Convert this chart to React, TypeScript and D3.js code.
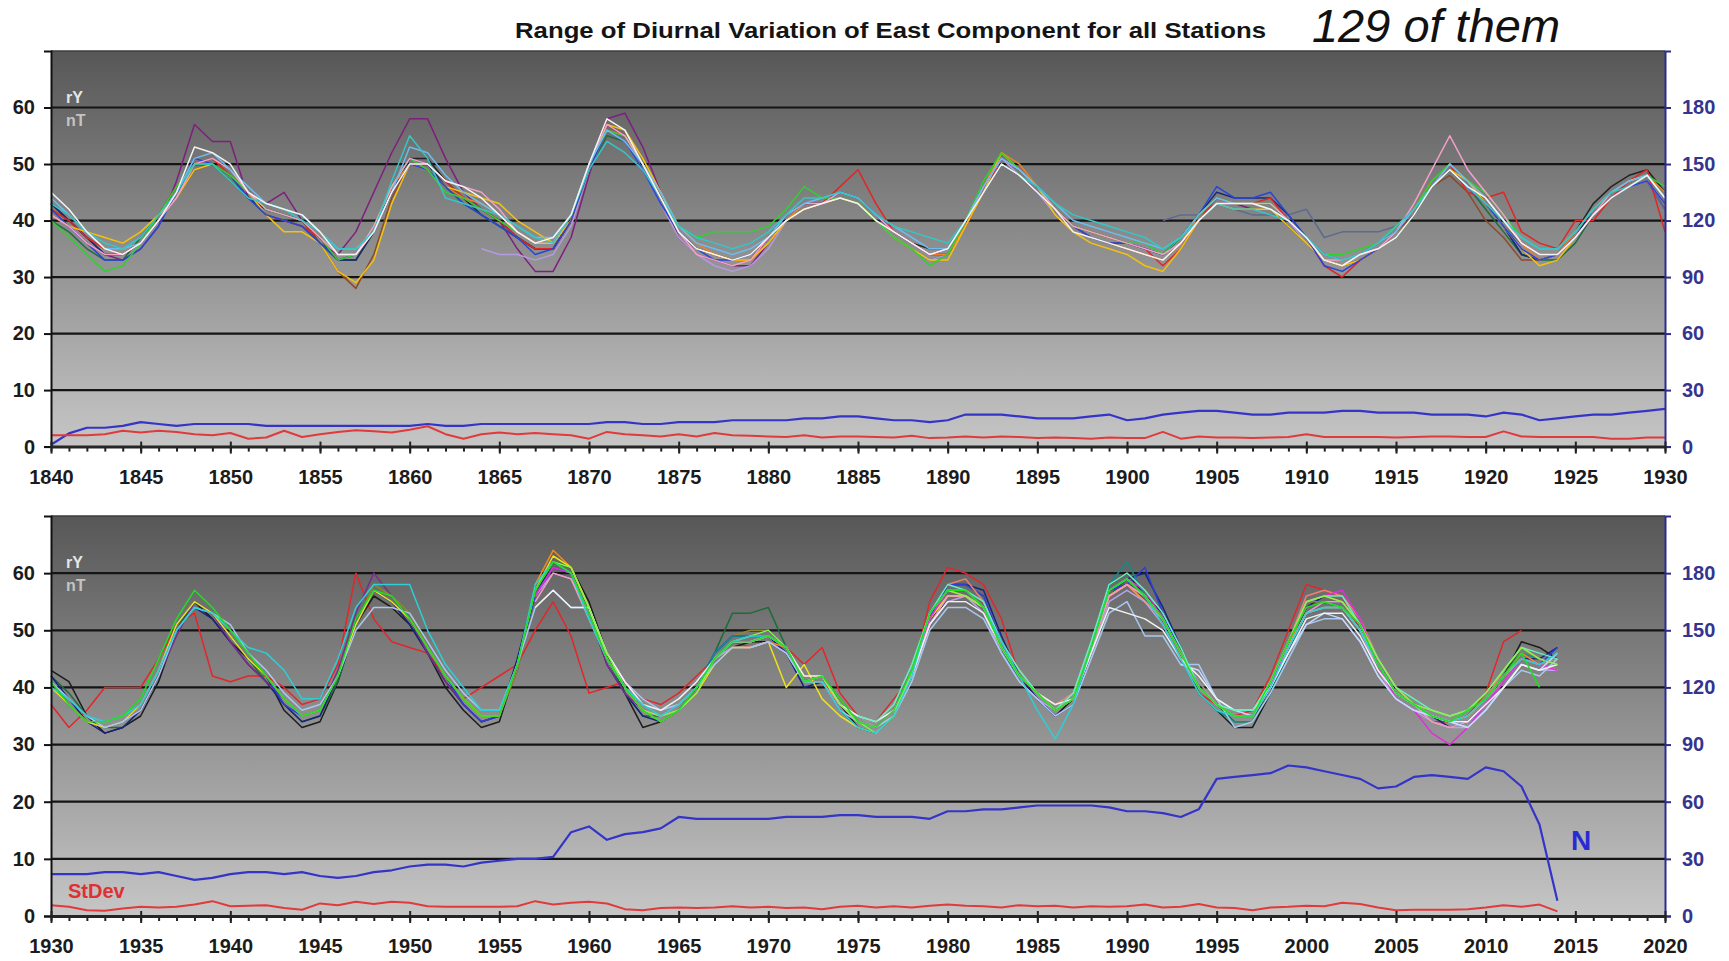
import React, { useRef, useEffect } from 'react';
import * as d3 from 'd3';

const WIDTH = 1729;
const HEIGHT = 961;
const PLOT_LEFT = 51;
const PLOT_RIGHT = 1665;
const FONT = 'Arial, "Liberation Sans", sans-serif';

// tick labels
const LEFT_TICKS = [0, 10, 20, 30, 40, 50, 60];
const RIGHT_TICKS = [0, 30, 60, 90, 120, 150, 180];
const UPPER_YEARS = [1840, 1845, 1850, 1855, 1860, 1865, 1870, 1875, 1880, 1885, 1890, 1895, 1900, 1905, 1910, 1915, 1920, 1925, 1930];
const LOWER_YEARS = [1930, 1935, 1940, 1945, 1950, 1955, 1960, 1965, 1970, 1975, 1980, 1985, 1990, 1995, 2000, 2005, 2010, 2015, 2020];

// ---- upper panel, station ranges (nT), yearly from 1840 unless noted
const U_PURPLE = [41,39,36,34,33,35,39,47,57,54, 54,44,43,45,40,36,34,38,45,52, 58,58,51,45,42,40,35,31,31,37, 48,58,59,53,45,37,34,33,32,32, 36,40,42,43,44,43,40,38,36,34, 34,39,45,50,48,45,42,39,37,36, 35,34,33,36,40,43,43,42,42,40, 36,33,32,33,35,38,42,46,49,46, 43,39,36,34,34,37,41,44,46,47, 42];
const U_BROWN = [42,40,37,35,34,36,40,44,49,50, 48,45,42,41,40,36,31,28,34,44, 50,50,46,44,42,40,37,35,35,40, 49,56,55,50,44,38,35,34,33,33, 36,40,42,43,44,43,40,37,35,33, 34,39,45,50,48,45,41,38,37,36, 35,34,33,36,40,43,42,42,42,39, 36,33,32,33,35,38,41,46,48,45, 40,37,33,33,34,37,41,45,47,48, 44];
const U_BLACK = [43,40,37,34,34,36,40,45,50,50, 48,44,42,41,40,37,33,33,38,45, 51,51,47,44,41,39,37,35,35,40, 50,57,55,50,44,38,35,34,33,33, 37,41,43,43,45,44,41,38,36,35, 35,40,46,50,48,45,42,39,38,37, 36,35,34,37,41,44,43,43,43,40, 37,34,33,34,36,38,42,46,49,46, 43,39,34,33,34,38,43,46,48,49, 45];
const U_DKGREEN = [40,38,35,33,33,37,41,46,50,50, 47,44,41,40,39,36,33,33,38,45, 50,49,46,43,41,39,37,35,35,40, 49,55,54,49,43,38,35,34,33,34, 37,40,42,43,44,43,40,37,35,33, 34,39,46,51,49,46,42,39,37,36, 35,34,33,36,40,43,42,42,42,39, 36,33,32,33,35,37,41,46,49,46, 42,38,34,33,33,36,41,45,47,48, 45];
const U_NAVY = [43,40,37,34,34,36,40,45,50,50, 48,44,42,41,40,37,33,33,38,45, 51,50,46,44,42,40,37,35,35,40, 50,57,55,50,44,38,35,34,33,33, 37,41,43,43,45,44,41,38,36,34, 35,40,46,51,49,46,42,39,37,36, 36,35,34,37,41,45,44,44,44,41, 37,33,32,33,35,38,42,46,49,46, 43,39,34,33,34,37,42,45,47,48, 44];
const U_RED = [42,40,37,35,34,36,41,46,50,51, 48,45,41,40,39,37,33,34,38,45, 50,50,47,44,42,40,37,35,35,40, 50,57,55,50,44,38,35,34,33,33, 37,41,43,43,46,49,43,38,36,34, 34,39,45,51,49,46,42,39,38,37, 36,35,32,35,40,44,43,43,44,40, 37,32,30,33,35,38,42,47,50,45, 44,45,38,36,35,40,40,44,47,49, 38];
const U_YELLOW = [41,39,38,37,36,38,41,44,49,50, 48,45,41,38,38,36,31,29,33,43, 50,49,46,45,44,43,40,38,36,40, 49,57,56,51,45,38,35,34,33,33, 36,40,42,43,44,43,40,37,35,33, 33,39,45,52,49,46,41,38,36,35, 34,32,31,35,40,43,42,42,42,39, 36,33,32,33,35,38,42,46,49,47, 43,39,35,32,33,37,41,44,46,48, 44];
const U_BLUE = [42,39,36,33,33,35,39,45,51,50, 48,44,41,40,39,36,33,34,39,45, 50,49,46,43,41,39,37,34,35,40, 49,56,54,49,43,38,35,33,33,34, 37,41,43,43,45,44,41,38,36,34, 35,40,46,51,49,46,42,39,37,36, 36,35,34,37,41,46,44,44,45,41, 37,32,31,33,35,38,42,46,49,46, 43,39,35,33,34,37,41,44,46,47, 43];
const U_GREEN = [40,37,34,31,32,36,41,46,50,50, 48,45,42,41,40,37,33,34,39,46, 51,49,45,44,42,40,38,36,36,41, 50,56,55,50,44,39,37,38,38,38, 39,42,46,44,44,43,40,37,35,32, 34,40,47,52,49,46,42,39,38,37, 36,36,34,37,41,44,43,43,43,40, 37,34,34,35,36,39,42,47,50,47, 45,41,37,35,35,38,42,45,47,48, 46];
const U_PINK = [41,39,36,34,34,36,40,44,50,51, 49,45,42,41,40,37,34,34,39,46, 51,50,47,46,45,42,38,36,36,41, 50,57,55,50,44,38,34,33,32,33, 37,41,43,43,45,44,41,38,36,34, 35,40,46,51,49,46,42,39,38,37, 36,35,34,36,40,43,43,43,43,40, 37,33,33,34,35,38,43,49,55,49, 45,41,36,34,34,37,41,45,47,48, 44];
const U_ORANGE_START = 1858;
const U_ORANGE = [38,46, 50,49,46,44,43,41,38,36,36,40, 49,56,55,50,45,39,36,34,33,33, 36,40,43,43,44,43,40,38,36,34, 34,39,46,52,50,46,42,39,37,36, 35,34,33,36,41,44,43,43,42,40, 37,33,32,33,35,38,42,47,50,47, 44,40,36,33,34,38,42,45,47,48, 45];
const U_SLATE_START = 1902;
const U_SLATE = [40,41,41,43,42,41,41,41, 42,37,38,38,38,39,42,46,49,46, 43,39,36,34,34,37,41,44,46,47, 42];
const U_LAVENDER_START = 1864;
const U_LAVENDER = [35,34,34,33,34,39, 49,56,54,49,43,37,34,32,31,32, 35,40,42,43,44,43,40,37,35,33, 34,39,45,51,48,45,41,38,37,36, 35,34,33,36,40,43,42,42,42,40, 36,33,32,33,35,38,42,46,49,46, 43,39,35,33,34,37,41,44,46,47, 43];
const U_SKY = [44,41,38,35,35,36,40,45,51,52, 49,46,43,42,41,38,35,35,38,45, 53,52,48,45,43,41,39,37,37,41, 50,56,54,50,45,39,36,35,34,35, 37,41,43,44,45,44,41,39,37,35, 35,40,46,51,49,46,43,40,39,38, 37,36,35,37,41,44,43,43,42,40, 37,34,33,34,36,38,42,46,50,47, 44,40,37,35,35,38,42,45,47,48, 44];
const U_TEAL = [43,41,38,36,35,37,41,45,50,50, 47,44,43,42,40,38,35,35,38,47, 55,51,44,43,42,41,39,37,36,41, 49,54,52,49,44,39,37,36,35,36, 38,41,44,44,45,44,41,39,38,37, 36,40,45,50,48,46,43,41,40,39, 38,37,35,37,40,43,42,42,41,40, 37,34,33,34,36,39,42,46,49,46, 43,40,37,35,35,38,42,45,46,48, 44];
const U_WHITE = [45,42,38,35,34,36,40,45,53,52, 50,45,43,42,41,38,34,34,38,45, 50,50,47,46,44,41,38,36,37,41, 50,58,56,50,44,38,35,34,33,34, 37,40,42,43,44,43,40,38,36,34, 35,40,45,50,48,45,42,38,37,36, 35,34,33,36,40,43,43,43,42,40, 37,33,32,34,35,37,41,46,49,46, 44,40,36,34,34,37,41,44,46,48, 44];

const UPPER_STDEV = [2.0,2.0,2.0,2.2,2.8,2.5,2.8,2.6,2.2,2.0, 2.4,1.4,1.6,2.8,1.7,2.2,2.6,2.9,2.7,2.5, 3.0,3.6,2.2,1.4,2.2,2.5,2.2,2.4,2.2,2.0, 1.4,2.6,2.2,2.0,1.8,2.2,1.8,2.4,2.0,1.9, 1.8,1.7,2.0,1.6,1.8,1.8,1.7,1.6,1.9,1.5, 1.6,1.8,1.6,1.8,1.7,1.5,1.6,1.5,1.4,1.6, 1.5,1.5,2.6,1.4,1.8,1.6,1.6,1.5,1.6,1.7, 2.2,1.7,1.7,1.7,1.7,1.6,1.7,1.8,1.8,1.7, 1.7,2.7,1.8,1.7,1.7,1.7,1.7,1.4,1.4,1.6, 1.6];
const UPPER_N = [1,7,10,10,11,13,12,11,12,12, 12,12,11,11,11,11,11,11,11,11, 11,12,11,11,12,12,12,12,12,12, 12,13,13,12,12,13,13,13,14,14, 14,14,15,15,16,16,15,14,14,13, 14,17,17,17,16,15,15,15,16,17, 14,15,17,18,19,19,18,17,17,18, 18,18,19,19,18,18,18,17,17,17, 16,18,17,14,15,16,17,17,18,19, 20];

// ---- lower panel, yearly from 1930 unless noted
const L_RED = [37,33,36,40,40,40,45,51,53,42, 41,42,42,40,37,38,44,60,52,48, 47,46,42,38,40,42,44,50,55,49, 39,40,41,38,37,39,42,45,48,47, 48,47,44,47,39,35,34,38,42,55, 61,60,58,52,42,38,36,38,47,57, 58,55,51,45,39,37,35,36,42,50, 58,57,56,50,43,38,36,34,34,35, 39,48,50];
const L_BLACK = [43,41,35,32,33,35,41,50,55,52, 48,45,42,36,33,34,41,51,56,54, 51,46,40,36,33,34,44,57,62,61, 55,46,39,33,34,36,39,44,47,48, 48,46,41,42,37,33,32,35,42,52, 55,55,53,47,42,38,35,38,46,58, 60,56,53,46,39,36,33,33,39,46, 53,55,54,50,44,39,37,35,34,35, 38,42,48,47,45];
const L_DKGREEN = [42,39,35,33,33,36,42,50,55,53, 49,45,41,37,34,35,41,51,57,55, 52,46,41,37,34,35,44,56,62,61, 54,45,39,35,35,37,40,46,53,53, 54,47,41,42,38,34,33,36,43,52, 56,56,54,47,42,39,36,38,47,56, 59,55,52,46,40,37,34,34,40,47, 54,55,54,50,44,39,37,35,34,35, 38,42,47,45];
const L_NAVY = [42,38,34,32,33,36,42,50,54,52, 48,44,41,37,34,35,42,52,57,55, 51,46,41,37,34,35,45,57,61,60, 53,44,39,35,34,36,40,46,49,49, 49,46,40,41,36,33,32,35,42,52, 58,58,57,49,42,38,35,37,46,57, 59,60,54,47,40,37,35,35,40,47, 54,56,55,51,44,39,37,35,33,34, 37,41,45,45,47];
const L_BLUE = [41,37,34,33,34,37,43,51,55,53, 49,45,42,37,35,36,42,51,57,55, 52,47,42,37,34,35,44,56,61,60, 53,45,40,36,35,37,40,46,49,49, 50,47,41,42,37,34,33,36,43,52, 58,58,56,48,42,39,36,38,47,57, 58,61,53,46,40,37,35,35,40,47, 53,55,55,51,44,39,37,35,34,34, 37,41,45,44,47];
const L_PURPLE = [40,37,34,33,34,36,42,49,55,53, 48,44,41,38,35,36,43,53,60,56, 52,46,41,37,34,35,43,56,61,60, 53,44,39,36,35,37,40,45,48,48, 49,47,41,42,37,34,33,36,43,52, 57,57,54,47,42,39,36,38,47,57, 58,56,52,46,40,37,35,35,40,47, 54,55,55,51,44,39,37,35,34,35, 38,42,46,44];
const L_YELLOW = [40,37,34,33,34,37,43,51,55,53, 49,45,42,38,35,36,42,51,57,55, 52,47,42,38,35,35,44,57,63,61, 54,45,40,36,34,36,39,44,47,47, 48,40,44,38,35,33,32,35,42,52, 56,56,54,47,42,39,36,38,47,56, 58,55,52,46,40,37,35,35,40,47, 53,54,54,50,44,39,37,35,34,35, 38,42,45,44];
const L_LTBLUE = [41,38,35,33,34,36,42,50,54,53, 51,46,43,39,36,37,42,50,54,54, 53,48,43,39,36,36,44,54,57,54, 54,46,41,38,36,37,40,44,47,47, 48,46,41,41,36,34,33,35,41,50, 54,54,52,46,41,38,35,37,45,53, 55,49,49,44,44,38,33,34,39,45, 51,52,52,48,42,38,36,35,34,33, 36,40,43,42,45];
const L_CYAN = [40,38,35,34,35,37,43,50,54,53, 50,47,46,43,38,38,45,54,58,58, 58,50,44,40,36,36,44,58,62,60, 52,45,40,37,35,37,40,45,48,49, 49,47,41,41,36,33,32,35,42,53, 57,57,54,48,42,36,31,37,47,57, 59,56,51,45,39,36,35,35,40,47, 53,54,54,50,44,39,37,35,34,35, 38,42,45,44,46];
const L_GREEN = [41,37,34,34,35,38,45,52,57,54, 50,46,42,38,35,36,42,52,57,56, 52,47,42,38,35,35,44,57,62,60, 53,45,40,36,34,36,40,45,48,48, 49,47,41,42,38,34,33,36,43,53, 57,57,54,47,42,39,36,38,47,57, 59,56,52,46,40,37,35,35,41,48, 54,55,54,51,44,39,37,35,34,36, 38,42,46,40];
const L_OLIVE_START = 1947;
const L_OLIVE = [51,58,56, 53,47,42,38,35,35,43,56,61,60, 53,45,40,36,35,37,40,46,49,50, 50,47,42,42,38,34,33,36,43,53, 57,56,54,47,42,39,36,38,47,57, 59,56,52,46,40,37,35,35,40,47, 55,55,55,51,44,39,37,35,34,35, 38,42,46,45,44];
// stations that begin with the IGY
const IGY_START = 1957;
const L_MAGENTA = [56,61,60, 53,45,40,36,35,37,40,45,48,48, 49,47,41,42,37,34,33,36,43,52, 57,57,54,47,42,39,36,38,47,57, 59,57,52,46,40,37,35,35,40,48, 55,56,57,52,44,38,36,32,30,33, 37,41,45,44,43];
const L_ORANGE = [58,64,61, 54,45,40,36,35,37,40,45,47,47, 48,47,41,41,37,34,33,36,43,52, 57,57,54,47,42,39,36,38,46,56, 58,55,52,46,40,37,35,35,40,47, 55,56,55,51,44,39,37,35,34,35, 38,42,46,44,43];
const L_PINK = [55,60,59, 52,45,40,36,35,37,40,45,48,48, 49,47,41,42,37,34,33,36,42,51, 56,56,54,47,42,39,36,38,47,56, 58,56,52,46,40,37,35,35,40,47, 53,55,55,51,44,39,37,34,33,34, 37,41,45,44,43];
const L_WHITE = [54,57,54, 54,46,41,37,36,38,41,45,48,48, 49,47,42,42,37,35,34,36,42,51, 55,55,53,47,42,39,37,38,46,54, 53,52,50,45,42,38,36,36,40,46, 52,53,53,49,43,39,37,35,34,34, 37,40,44,43,44];
const L_LIME = [57,62,61, 54,46,40,36,35,36,39,45,48,49, 50,47,41,42,37,34,32,35,43,53, 57,56,54,47,42,39,36,38,47,57, 59,56,52,46,40,37,35,35,41,48, 55,56,55,51,45,40,37,36,35,36, 39,43,47,45,44];
const L_TEAL = [57,62,60, 53,45,40,36,35,37,40,46,49,49, 49,47,41,42,37,34,32,35,43,52, 57,57,54,47,41,38,36,38,47,58, 62,56,52,46,39,36,34,34,39,46, 53,54,54,50,44,39,37,35,34,35, 38,42,46,45,44];
const L_LAVENDER = [56,60,59, 53,45,40,36,35,37,40,45,47,47, 48,46,41,42,37,34,33,36,42,51, 55,56,53,46,41,38,36,38,46,55, 57,55,51,45,40,37,35,35,40,47, 53,54,54,50,43,38,36,34,33,33, 36,40,44,43,43];
const L_GRAY_START = 1964;
const L_GRAY = [35,37,40,45,48,48, 49,47,41,42,37,35,33,36,42,52, 56,56,54,47,42,39,36,38,47,56, 58,56,52,46,41,37,35,35,40,47, 53,55,54,50,44,39,37,35,34,35, 38,41,45,44,45];
const L_MINT_START = 1975;
const L_MINT = [35,34,37,44,53, 58,57,55,48,43,39,36,39,48,58, 60,57,53,47,40,37,36,36,41,48, 55,56,56,51,45,40,38,36,35,36, 39,43,47,46,45];
const L_SALMON_START = 1980;
const L_SALMON = [58,59,55,48,43,39,37,39,47,56, 58,55,52,46,40,37,35,35,41,48, 56,57,56,52,45,40,37,35,34,35, 38,43,47,45,44];
const L_PALE_START = 1993;
const L_PALE = [44,43,38,36,35,40,46, 51,53,52,48,42,38,36,35,34,33, 36,40,44,43,46];

const LOWER_STDEV = [1.9,1.6,1.0,0.9,1.3,1.6,1.5,1.6,2.0,2.6, 1.7,1.8,1.9,1.4,1.1,2.2,1.9,2.5,2.1,2.5, 2.3,1.7,1.6,1.6,1.6,1.6,1.7,2.6,2.0,2.3, 2.5,2.2,1.2,1.0,1.4,1.5,1.4,1.5,1.7,1.5, 1.6,1.4,1.5,1.2,1.6,1.8,1.5,1.7,1.5,1.8, 2.0,1.8,1.7,1.5,1.9,1.7,1.8,1.5,1.7,1.6, 1.7,2.0,1.5,1.6,2.1,1.5,1.4,1.0,1.5,1.6, 1.8,1.7,2.3,2.1,1.5,1.0,1.1,1.1,1.1,1.2, 1.5,1.9,1.6,2.0,0.8];
const LOWER_N = [22,22,22,23,23,22,23,21,19,20, 22,23,23,22,23,21,20,21,23,24, 26,27,27,26,28,29,30,30,31,44, 47,40,43,44,46,52,51,51,51,51, 51,52,52,52,53,53,52,52,52,51, 55,55,56,56,57,58,58,58,58,57, 55,55,54,52,56,72,73,74,75,79, 78,76,74,72,67,68,73,74,73,72, 78,76,68,48,8];

const upperSeries = [
  { start: 1840, values: U_PURPLE, color: '#7e1f7e' },
  { start: 1840, values: U_BROWN, color: '#8b4a2b' },
  { start: 1840, values: U_BLACK, color: '#242424' },
  { start: 1840, values: U_DKGREEN, color: '#1d6e3c' },
  { start: 1840, values: U_NAVY, color: '#1c2a78' },
  { start: U_SLATE_START, values: U_SLATE, color: '#5c6b8c' },
  { start: U_LAVENDER_START, values: U_LAVENDER, color: '#b49ae0' },
  { start: 1840, values: U_RED, color: '#e02626' },
  { start: U_ORANGE_START, values: U_ORANGE, color: '#f08020' },
  { start: 1840, values: U_YELLOW, color: '#f4c20c' },
  { start: 1840, values: U_BLUE, color: '#2746d8' },
  { start: 1840, values: U_GREEN, color: '#2ed12e' },
  { start: 1840, values: U_PINK, color: '#f4a0c8' },
  { start: 1840, values: U_SKY, color: '#6cbcf0' },
  { start: 1840, values: U_TEAL, color: '#35c6c6' },
  { start: 1840, values: U_WHITE, color: '#f4f4f4' },
];

const lowerSeries = [
  { start: 1930, values: L_RED, color: '#e3262b' },
  { start: 1930, values: L_BLACK, color: '#1c1c1c' },
  { start: 1930, values: L_DKGREEN, color: '#1f6b3b' },
  { start: 1930, values: L_NAVY, color: '#1a237e' },
  { start: 1930, values: L_PURPLE, color: '#7b2d8e' },
  { start: L_OLIVE_START, values: L_OLIVE, color: '#8a8a2a' },
  { start: 1930, values: L_BLUE, color: '#2a3fd6' },
  { start: IGY_START, values: L_TEAL, color: '#138b8b' },
  { start: L_GRAY_START, values: L_GRAY, color: '#9a9a9a' },
  { start: IGY_START, values: L_ORANGE, color: '#f28a1d' },
  { start: 1930, values: L_YELLOW, color: '#ece21c' },
  { start: L_SALMON_START, values: L_SALMON, color: '#f08070' },
  { start: IGY_START, values: L_LAVENDER, color: '#b7a3ea' },
  { start: IGY_START, values: L_PINK, color: '#f29ac4' },
  { start: IGY_START, values: L_MAGENTA, color: '#e22ce0' },
  { start: 1930, values: L_LTBLUE, color: '#a9c8f0' },
  { start: L_PALE_START, values: L_PALE, color: '#c8d8ff' },
  { start: IGY_START, values: L_WHITE, color: '#f2f2f2' },
  { start: L_MINT_START, values: L_MINT, color: '#66f0c0' },
  { start: IGY_START, values: L_LIME, color: '#8ef04a' },
  { start: 1930, values: L_CYAN, color: '#2ccfd6' },
  { start: 1930, values: L_GREEN, color: '#1ee01e' },
];

const panels = [
  { top: 51, bottom: 446.6, domain: [1840, 1930], years: UPPER_YEARS, series: upperSeries, stdevStart: 1840, stdev: UPPER_STDEV, nStart: 1840, n: UPPER_N, extraLabels: false },
  { top: 516, bottom: 916, domain: [1930, 2020], years: LOWER_YEARS, series: lowerSeries, stdevStart: 1930, stdev: LOWER_STDEV, nStart: 1930, n: LOWER_N, extraLabels: true },
];

const toPoints = (start: number, values: number[]) => values.map((v, i) => [start + i, v] as [number, number]);

function drawPanel(svg: any, p: any) {
  const x = d3.scaleLinear().domain(p.domain).range([PLOT_LEFT, PLOT_RIGHT]);
  const y = d3.scaleLinear().domain([0, 70]).range([p.bottom, p.top]);
  const yN = d3.scaleLinear().domain([0, 210]).range([p.bottom, p.top]);

  const g = svg.append('g');

  // plot area with the grey gradient
  g.append('rect')
    .attr('x', PLOT_LEFT)
    .attr('y', p.top)
    .attr('width', PLOT_RIGHT - PLOT_LEFT)
    .attr('height', p.bottom - p.top)
    .attr('fill', 'url(#plotBg)');
  g.append('line')
    .attr('x1', PLOT_LEFT).attr('x2', PLOT_RIGHT)
    .attr('y1', p.top).attr('y2', p.top)
    .attr('stroke', '#3c3c3c').attr('stroke-width', 1.5);

  // gridlines
  g.selectAll('line.grid')
    .data(LEFT_TICKS.filter((v) => v > 0))
    .join('line')
    .attr('class', 'grid')
    .attr('x1', PLOT_LEFT).attr('x2', PLOT_RIGHT)
    .attr('y1', (d: number) => y(d)).attr('y2', (d: number) => y(d))
    .attr('stroke', '#141414').attr('stroke-width', 2.2);

  const line = d3.line<[number, number]>().x((d) => x(d[0])).y((d) => y(d[1]));
  const lineN = d3.line<[number, number]>().x((d) => x(d[0])).y((d) => yN(d[1]));

  // station count (right axis) and standard deviation
  g.append('path')
    .datum(toPoints(p.nStart, p.n))
    .attr('d', lineN)
    .attr('fill', 'none')
    .attr('stroke', '#3434c8')
    .attr('stroke-width', 2.2)
    .attr('stroke-linejoin', 'round');
  g.append('path')
    .datum(toPoints(p.stdevStart, p.stdev))
    .attr('d', line)
    .attr('fill', 'none')
    .attr('stroke', '#e03a3c')
    .attr('stroke-width', 2)
    .attr('stroke-linejoin', 'round');

  // stations
  p.series.forEach((s: any) => {
    g.append('path')
      .datum(toPoints(s.start, s.values))
      .attr('d', line)
      .attr('fill', 'none')
      .attr('stroke', s.color)
      .attr('stroke-width', 1.5)
      .attr('stroke-linejoin', 'round');
  });

  // left axis
  const left = g.append('g')
    .attr('transform', `translate(${PLOT_LEFT},0)`)
    .call(d3.axisLeft(y).tickValues(LEFT_TICKS).tickSizeInner(7).tickSizeOuter(7).tickPadding(9).tickFormat(d3.format('d')));
  left.select('.domain').attr('stroke', '#111').attr('stroke-width', 2);
  left.selectAll('.tick line').attr('stroke', '#111').attr('stroke-width', 2);
  left.selectAll('text')
    .attr('fill', '#1b1b1b')
    .style('font-family', FONT)
    .style('font-size', '20px')
    .style('font-weight', 'bold');

  // right axis (N)
  const right = g.append('g')
    .attr('transform', `translate(${PLOT_RIGHT},0)`)
    .call(d3.axisRight(yN).tickValues(RIGHT_TICKS).tickSizeInner(6).tickSizeOuter(6).tickPadding(11));
  right.select('.domain').attr('stroke', '#2c2c90').attr('stroke-width', 2);
  right.selectAll('.tick line').attr('stroke', '#2c2c90').attr('stroke-width', 2);
  right.selectAll('text')
    .attr('fill', '#34348e')
    .style('font-family', FONT)
    .style('font-size', '20px')
    .style('font-weight', 'bold');

  // bottom axis: minor ticks every year, crossing major ticks every 5 years
  const minor = g.append('g')
    .attr('transform', `translate(0,${p.bottom})`)
    .call(d3.axisBottom(x).tickValues(d3.range(p.domain[0], p.domain[1] + 1)).tickSize(5).tickFormat(() => ''));
  minor.select('.domain').remove();
  minor.selectAll('.tick line').attr('stroke', '#222').attr('stroke-width', 2);

  const bottom = g.append('g')
    .attr('transform', `translate(0,${p.bottom})`)
    .call(d3.axisBottom(x).tickValues(p.years).tickSizeInner(7).tickSizeOuter(0).tickFormat(d3.format('d')));
  bottom.select('.domain').attr('stroke', '#262626').attr('stroke-width', 3);
  bottom.selectAll('.tick line').attr('y1', -5).attr('stroke', '#222').attr('stroke-width', 2);
  bottom.selectAll('text')
    .attr('y', 37)
    .attr('dy', 0)
    .attr('fill', '#1b1b1b')
    .style('font-family', FONT)
    .style('font-size', '20px')
    .style('font-weight', 'bold');

  // unit label
  g.append('text')
    .attr('x', 66).attr('y', p.top + 52)
    .attr('fill', '#e6e6e6')
    .style('font-family', FONT).style('font-size', '16px').style('font-weight', 'bold')
    .text('rY');
  g.append('text')
    .attr('x', 66).attr('y', p.top + 75)
    .attr('fill', '#c4c4c4')
    .style('font-family', FONT).style('font-size', '16px').style('font-weight', 'bold')
    .text('nT');

  if (p.extraLabels) {
    g.append('text')
      .attr('x', 68).attr('y', 898)
      .attr('fill', '#e03034')
      .style('font-family', FONT).style('font-size', '20px').style('font-weight', 'bold')
      .text('StDev');
    g.append('text')
      .attr('x', 1581).attr('y', 850)
      .attr('text-anchor', 'middle')
      .attr('fill', '#2a2ad4')
      .style('font-family', FONT).style('font-size', '28px').style('font-weight', 'bold')
      .text('N');
  }
}

export default function App() {
  const svgRef = useRef<SVGSVGElement>(null);

  useEffect(() => {
    const svg = d3.select(svgRef.current);
    svg.selectAll('*').remove();

    const grad = svg.append('defs').append('linearGradient')
      .attr('id', 'plotBg')
      .attr('x1', 0).attr('y1', 0).attr('x2', 0).attr('y2', 1);
    grad.append('stop').attr('offset', '0%').attr('stop-color', '#575757');
    grad.append('stop').attr('offset', '100%').attr('stop-color', '#c6c6c6');

    svg.append('rect').attr('width', WIDTH).attr('height', HEIGHT).attr('fill', '#ffffff');

    // titles
    svg.append('text')
      .attr('x', 515).attr('y', 38)
      .attr('textLength', 751).attr('lengthAdjust', 'spacingAndGlyphs')
      .attr('fill', '#141414')
      .style('font-family', FONT).style('font-size', '22px').style('font-weight', 'bold')
      .text('Range of Diurnal Variation of East Component for all Stations');
    svg.append('text')
      .attr('x', 1312).attr('y', 42)
      .attr('textLength', 248).attr('lengthAdjust', 'spacingAndGlyphs')
      .attr('fill', '#111')
      .style('font-family', FONT).style('font-size', '46px').style('font-style', 'italic')
      .text('129 of them');

    panels.forEach((p) => drawPanel(svg, p));
  }, []);

  return (
    <svg
      ref={svgRef}
      width={WIDTH}
      height={HEIGHT}
      style={{ position: 'absolute', left: 0, top: 0, display: 'block' }}
    />
  );
}
